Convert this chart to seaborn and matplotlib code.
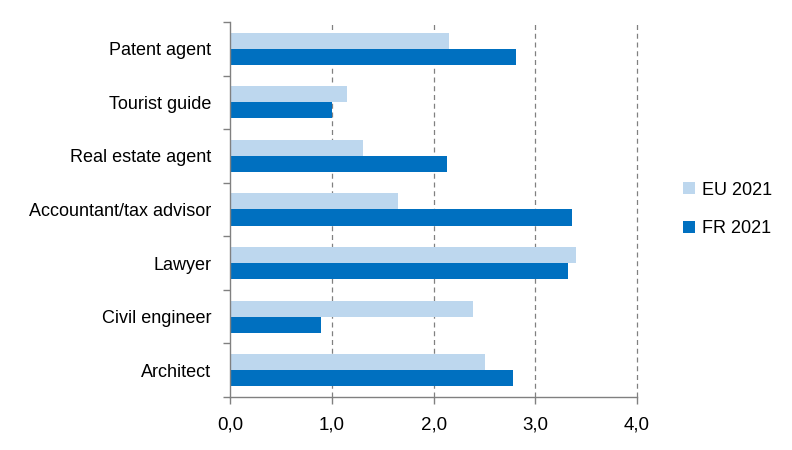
import numpy as np
import pandas as pd
import seaborn as sns
import matplotlib.pyplot as plt

categories = ['Patent agent', 'Tourist guide', 'Real estate agent', 'Accountant/tax advisor',
              'Lawyer', 'Civil engineer', 'Architect']
eu_2021 = [2.15, 1.15, 1.30, 1.65, 3.40, 2.39, 2.51]
fr_2021 = [2.81, 1.00, 2.13, 3.36, 3.32, 0.89, 2.78]
series = ['EU 2021', 'FR 2021']
colors = ['#BDD7EE', '#0070C0']
xticks = [0, 1, 2, 3, 4]

df = pd.DataFrame({
    'job': categories * 2,
    'value': eu_2021 + fr_2021,
    'series': [series[0]] * len(categories) + [series[1]] * len(categories),
})

sns.set_style('white')
plt.rcParams['font.family'] = ['Liberation Sans', 'DejaVu Sans']
plt.rcParams['text.color'] = 'black'
plt.rcParams['xtick.labelcolor'] = 'black'
plt.rcParams['ytick.labelcolor'] = 'black'

fig = plt.figure(figsize=(7.92, 4.5), dpi=100)
ax = fig.add_axes([0.291, 0.118, 0.513, 0.833])

sns.barplot(data=df, y='job', x='value', hue='series', order=categories, hue_order=series,
            palette=colors, orient='h', width=0.6, gap=0, saturation=1, linewidth=0, ax=ax)

ax.set_xlim(0, 4)
ax.set_ylim(len(categories) - 0.5, -0.5)
ax.set_xticks(xticks)
ax.set_xticklabels([('%.1f' % t).replace('.', ',') for t in xticks])
ax.set_xlabel('')
ax.set_ylabel('')
for t in xticks[1:]:
    ax.axvline(t, color='#808080', linestyle=(0, (4, 3)), linewidth=0.9, zorder=0, clip_on=False)

# ticks on the category boundaries, none at label positions
ax.set_yticks(np.arange(len(categories)))
ax.set_yticks(np.arange(len(categories) + 1) - 0.5, minor=True)
ax.tick_params(axis='y', which='major', length=0, labelsize=13, pad=14)
ax.tick_params(axis='y', which='minor', length=5, color='#808080', width=1, left=True)
ax.tick_params(axis='x', which='major', length=5, color='#808080', width=1, bottom=True,
               labelsize=13.5, pad=9)

for s in ['top', 'right']:
    ax.spines[s].set_visible(False)
for s in ['left', 'bottom']:
    ax.spines[s].set_color('#808080')
    ax.spines[s].set_linewidth(1)

ax.legend(loc='center left', bbox_to_anchor=(1.075, 0.5), frameon=False, fontsize=13,
          handlelength=0.65, handleheight=0.65, handletextpad=0.4, labelspacing=1.2)

plt.savefig('out.png', dpi=100)
